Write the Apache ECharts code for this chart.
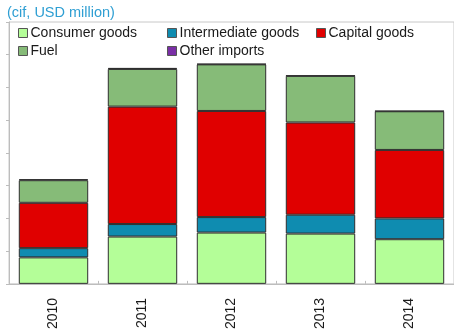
<!DOCTYPE html>
<html>
<head>
<meta charset="utf-8">
<script src="https://cdn.jsdelivr.net/npm/echarts@6/dist/echarts.min.js"></script>
<style>
  html, body { margin: 0; padding: 0; background: #ffffff; }
  #chart { width: 454px; height: 332px; }
</style>
</head>
<body>
<div id="chart"></div>
<script>
// Imports by category, cif, USD million
const years = ['2010', '2011', '2012', '2013', '2014'];
const consumerGoods = [809, 1445, 1567, 1536, 1364];
const intermediateGoods = [282, 382, 473, 576, 636];
const capitalGoods = [1385, 3588, 3242, 2818, 2091];
const fuel = [691, 1151, 1424, 1424, 1182];
const otherImports = [30, 30, 15, 10, 10];

const seriesDefs = [
  { name: 'Consumer goods', data: consumerGoods, color: '#b4fe98' },
  { name: 'Intermediate goods', data: intermediateGoods, color: '#0f8cb0' },
  { name: 'Capital goods', data: capitalGoods, color: '#e00000' },
  { name: 'Fuel', data: fuel, color: '#86bb78' },
  { name: 'Other imports', data: otherImports, color: '#7a2fa6' }
];

const FONT = '"Liberation Sans", "DejaVu Sans", sans-serif';

// legend laid out as a 3-column grid: one legend component per entry
const legendSlots = [[18, 26], [167, 26], [316, 26], [18, 44], [167, 44]];
const legends = seriesDefs.map((s, i) => ({
  data: [s.name],
  left: legendSlots[i][0],
  top: legendSlots[i][1],
  padding: 0,
  itemWidth: 9,
  itemHeight: 9,
  icon: 'rect',
  textStyle: { color: '#1a1a1a', fontSize: 14, fontFamily: FONT, padding: [0, 0, 0, -2] },
  itemStyle: { borderColor: '#555', borderWidth: 1 }
}));

const chart = echarts.init(document.getElementById('chart'), null, { renderer: 'canvas' });
chart.setOption({
  animation: false,
  backgroundColor: '#ffffff',
  title: {
    text: '(cif, USD million)',
    left: 7,
    top: 5,
    padding: 0,
    textStyle: { color: '#2f9fd3', fontSize: 14.5, fontWeight: 'normal', fontFamily: FONT }
  },
  legend: legends,
  grid: {
    left: 9, top: 22, bottom: 46, width: 450,
    show: true, borderColor: '#c8c8c8', borderWidth: 1, backgroundColor: 'transparent'
  },
  xAxis: {
    type: 'category',
    data: years,
    axisLine: { lineStyle: { color: '#bdbdbd', width: 1 } },
    axisTick: { show: true, inside: true, length: 3, lineStyle: { color: '#bdbdbd' } },
    axisLabel: { rotate: 90, margin: 14, color: '#1a1a1a', fontSize: 14, fontFamily: FONT }
  },
  yAxis: {
    type: 'value',
    min: 0, max: 8000, interval: 1000,
    axisLine: { show: true, lineStyle: { color: '#bdbdbd', width: 1 } },
    axisTick: { show: true, length: 3, lineStyle: { color: '#bdbdbd' } },
    axisLabel: { show: false },
    splitLine: { show: false }
  },
  series: seriesDefs.map(s => ({
    name: s.name,
    type: 'bar',
    stack: 'imports',
    data: s.data,
    barCategoryGap: '22%',
    itemStyle: { color: s.color, borderColor: '#2e2e2e', borderWidth: 1 }
  }))
});
</script>
</body>
</html>
